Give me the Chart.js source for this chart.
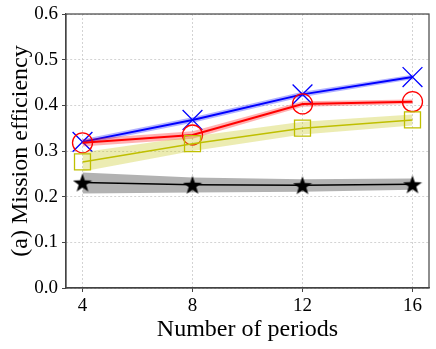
<!DOCTYPE html>
<html>
<head>
<meta charset="utf-8">
<script src="https://cdn.jsdelivr.net/npm/chart.js@4"></script>
<style>
  html, body { margin: 0; padding: 0; background: #fff; }
  #wrap { width: 436px; height: 349px; }
</style>
</head>
<body>
<div id="wrap"><canvas id="c" width="436" height="349"></canvas></div>
<script>
const periods = [4, 8, 12, 16];
const yTicks = [0, 0.1, 0.2, 0.3, 0.4, 0.5, 0.6];

const blueMean = [0.320, 0.368, 0.424, 0.462];
const blueLow  = [0.314, 0.362, 0.418, 0.457];
const blueHigh = [0.326, 0.374, 0.430, 0.467];

const redMean = [0.318, 0.335, 0.403, 0.408];
const redLow  = [0.310, 0.327, 0.397, 0.403];
const redHigh = [0.326, 0.343, 0.409, 0.413];

const oliveMean = [0.276, 0.316, 0.350, 0.368];
const oliveLow  = [0.255, 0.300, 0.336, 0.356];
const oliveHigh = [0.297, 0.332, 0.364, 0.380];

const blackMean = [0.231, 0.226, 0.225, 0.227];
const blackLow  = [0.207, 0.209, 0.211, 0.215];
const blackHigh = [0.253, 0.242, 0.238, 0.240];

const pts = arr => arr.map((v, i) => ({ x: periods[i], y: v }));

const serif = '"Liberation Serif", "DejaVu Serif", serif';
Chart.defaults.font.family = serif;

// filled star marker
function starImage(size) {
  const cv = document.createElement('canvas');
  cv.width = size; cv.height = size;
  const g = cv.getContext('2d');
  const cx = size / 2, cy = size / 2 + 1, R = size / 2, r = R * 0.4;
  g.beginPath();
  for (let k = 0; k < 10; k++) {
    const rad = k % 2 === 0 ? R : r;
    const a = -Math.PI / 2 + k * Math.PI / 5;
    g.lineTo(cx + rad * Math.cos(a), cy + rad * Math.sin(a));
  }
  g.closePath();
  g.fillStyle = '#000';
  g.fill();
  return cv;
}
const star = starImage(20);

function band(low, high, color) {
  return [
    { data: pts(low), borderWidth: 0, pointRadius: 0, fill: false, backgroundColor: 'transparent', borderColor: 'transparent' },
    { data: pts(high), borderWidth: 0, pointRadius: 0, fill: '-1', backgroundColor: color, borderColor: 'transparent' }
  ];
}

const boxPlugin = {
  id: 'box',
  afterDraw(chart) {
    const { ctx, chartArea: a } = chart;
    ctx.save();
    ctx.setLineDash([]);
    ctx.strokeStyle = '#444';
    ctx.lineWidth = 1.2;
    ctx.strokeRect(a.left, a.top, a.right - a.left, a.bottom - a.top);
    ctx.restore();
  }
};

const gridOpts = { color: '#c8c8c8', lineWidth: 0.8, tickColor: '#444', tickLength: 4, tickBorderDash: [], tickWidth: 1 };
const borderOpts = { display: true, color: '#444', width: 1.2, dash: [2, 2] };

new Chart(document.getElementById('c'), {
  type: 'line',
  plugins: [boxPlugin],
  data: {
    datasets: [
      ...band(blackLow, blackHigh, 'rgba(0,0,0,0.3)'),
      { data: pts(blackMean), borderColor: '#000', borderWidth: 1.5, fill: false,
        pointStyle: star, pointRadius: 10 },
      ...band(oliveLow, oliveHigh, 'rgba(191,191,0,0.3)'),
      { data: pts(oliveMean), borderColor: '#bfbf00', borderWidth: 1.5, fill: false,
        pointStyle: 'rect', pointRadius: 11.3, pointBorderColor: '#bfbf00', pointBackgroundColor: 'transparent', pointBorderWidth: 1.3 },
      ...band(redLow, redHigh, 'rgba(255,0,0,0.3)'),
      { data: pts(redMean), borderColor: '#ff0000', borderWidth: 2, fill: false,
        pointStyle: 'circle', pointRadius: 10, pointBorderColor: '#ff0000', pointBackgroundColor: 'transparent', pointBorderWidth: 1.3 },
      ...band(blueLow, blueHigh, 'rgba(0,0,255,0.3)'),
      { data: pts(blueMean), borderColor: '#0000ff', borderWidth: 2, fill: false,
        pointStyle: 'crossRot', pointRadius: 14, pointBorderColor: '#0000ff', pointBorderWidth: 1.3 }
    ]
  },
  options: {
    responsive: false,
    animation: false,
    layout: { autoPadding: false, padding: { left: 0, right: 7, top: 14, bottom: 5 } },
    plugins: { legend: { display: false }, tooltip: { enabled: false } },
    elements: { line: { tension: 0 } },
    scales: {
      x: {
        type: 'linear', min: 3.4, max: 16.6,
        afterBuildTicks: s => { s.ticks = periods.map(v => ({ value: v })); },
        afterFit: s => { s.height = 56; s.paddingLeft = 0; s.paddingRight = 0; },
        grid: gridOpts,
        border: borderOpts,
        ticks: { color: '#000', font: { family: serif, size: 19 }, padding: 3, maxRotation: 0 },
        title: { display: true, text: 'Number of periods', color: '#000', font: { family: serif, size: 24 }, padding: { top: 0, bottom: 0 } }
      },
      y: {
        min: 0, max: 0.6,
        afterBuildTicks: s => { s.ticks = yTicks.map(v => ({ value: v })); },
        afterFit: s => { s.width = 66; s.paddingTop = 0; s.paddingBottom = 0; },
        grid: gridOpts,
        border: borderOpts,
        ticks: { color: '#000', font: { family: serif, size: 19 }, padding: 4, callback: v => v.toFixed(1) },
        title: { display: true, text: '(a) Mission efficiency', color: '#000', font: { family: serif, size: 24 }, padding: { top: 6, bottom: 0 } }
      }
    }
  }
});
</script>
</body>
</html>
